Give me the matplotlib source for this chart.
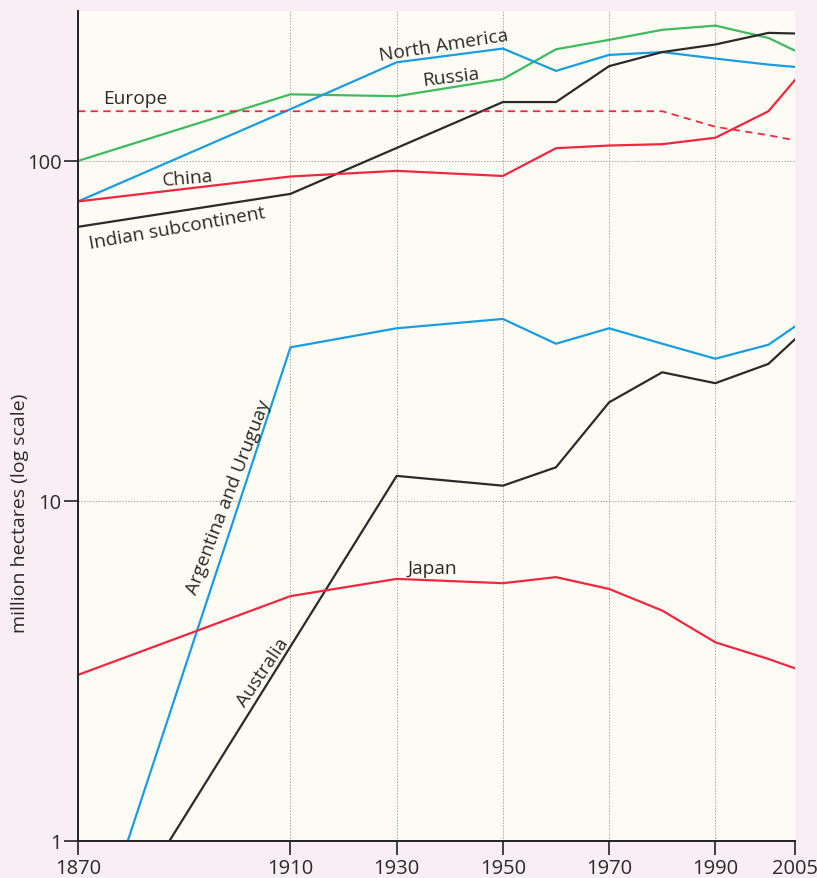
import matplotlib
matplotlib.use("Agg")
import matplotlib.pyplot as plt
from matplotlib.ticker import FixedLocator, NullLocator

plt.rcParams['font.family'] = ['Open Sans', 'DejaVu Sans']

# Cultivated area, million hectares
years_full = [1870, 1910, 1930, 1950, 1960, 1970, 1980, 1990, 2000, 2005]
russia = [100, 157, 155, 174, 213, 227, 243, 250, 230, 211]
north_america = [76, 142, 195, 214, 184, 205, 209, 200, 192, 189]
china = [76, 90, 93.5, 90.3, 109, 111, 112, 117, 140, 173]
japan = [3.08, 5.25, 5.9, 5.73, 5.97, 5.51, 4.76, 3.84, 3.43, 3.22]
argentina_uruguay = [0.36, 28.3, 32.2, 34.3, 29.0, 32.2, 29.0, 26.2, 28.8, 32.6]

years_india = [1870, 1910, 1950, 1960, 1970, 1980, 1990, 2000, 2005]
indian_subcontinent = [64, 80, 149, 149, 190, 209, 220, 238, 237]

years_europe = [1870, 1980, 1990, 2000, 2005]
europe = [140, 140, 126, 119, 115]

years_australia = [1870, 1930, 1950, 1960, 1970, 1980, 1990, 2000, 2005]
australia = [0.37, 11.85, 11.09, 12.56, 19.5, 23.9, 22.2, 25.3, 29.9]

x_ticks = [1870, 1910, 1930, 1950, 1970, 1990, 2005]
y_ticks = [1, 10, 100]
y_tick_labels = ['1', '10', '100']

GREEN = '#3fba5e'
BLUE = '#1a9de0'
RED = '#f2273f'
BLACK = '#2b2a28'

fig = plt.figure(figsize=(8.17, 8.79), dpi=100, facecolor='#f9eef4')
ax = fig.add_axes([78 / 817, 1 - 842 / 879, (795 - 78) / 817, (842 - 12) / 879])
ax.set_facecolor('#fdfcf4')

ax.set_yscale('log')
ax.set_xlim(1870, 2005)
ax.set_ylim(1, 276)

lw = 1.6
ax.plot(years_full, russia, color=GREEN, lw=lw)
ax.plot(years_full, north_america, color=BLUE, lw=lw)
ax.plot(years_india, indian_subcontinent, color=BLACK, lw=lw)
ax.plot(years_europe, europe, color=RED, lw=1.3, dashes=(4, 3))
ax.plot(years_full, china, color=RED, lw=lw)
ax.plot(years_full, argentina_uruguay, color=BLUE, lw=lw)
ax.plot(years_australia, australia, color=BLACK, lw=lw)
ax.plot(years_full, japan, color=RED, lw=lw)

# Axes styling
for s in ('top', 'right'):
    ax.spines[s].set_visible(False)
for s in ('left', 'bottom'):
    ax.spines[s].set_color('#222222')
    ax.spines[s].set_linewidth(1.4)

ax.xaxis.set_major_locator(FixedLocator(x_ticks))
ax.set_xticklabels([str(t) for t in x_ticks])
ax.yaxis.set_major_locator(FixedLocator(y_ticks))
ax.set_yticklabels(y_tick_labels)
ax.yaxis.set_minor_locator(NullLocator())
ax.tick_params(axis='both', which='major', length=10, width=1.2, color='#222222',
               labelsize=14.5, labelcolor='#2b2a28', direction='out', pad=2)

# Dotted reference grid
for yr in [1910, 1930, 1950, 1970, 1990]:
    ax.axvline(yr, color='#a9a59c', lw=0.7, ls=(0, (1.5, 1.5)), zorder=0)
for v in [10, 100]:
    ax.axhline(v, color='#a9a59c', lw=0.7, ls=(0, (1.5, 1.5)), zorder=0)

# Series labels
lab = dict(fontsize=13.8, color='#2b2a28', ha='center', va='center', rotation_mode='anchor')
ax.text(1880.8, 153, 'Europe', **lab)
ax.text(1938.9, 219, 'North America', rotation=9, **lab)
ax.text(1940.2, 177, 'Russia', rotation=7, **lab)
ax.text(1890.6, 89, 'China', rotation=5, **lab)
ax.text(1888.6, 63.5, 'Indian subcontinent', rotation=10, **lab)
ax.text(1898.3, 10.35, 'Argentina and Uruguay', rotation=69, **lab)
ax.text(1904.8, 3.14, 'Australia', rotation=56, **lab)
ax.text(1936.8, 6.35, 'Japan', **lab)

fig.text(20 / 817, 1 - 513 / 879, 'million hectares (log scale)', rotation=90,
         ha='center', va='center', fontsize=14, color='#2b2a28')

fig.savefig('out.png', dpi=100, facecolor=fig.get_facecolor())
